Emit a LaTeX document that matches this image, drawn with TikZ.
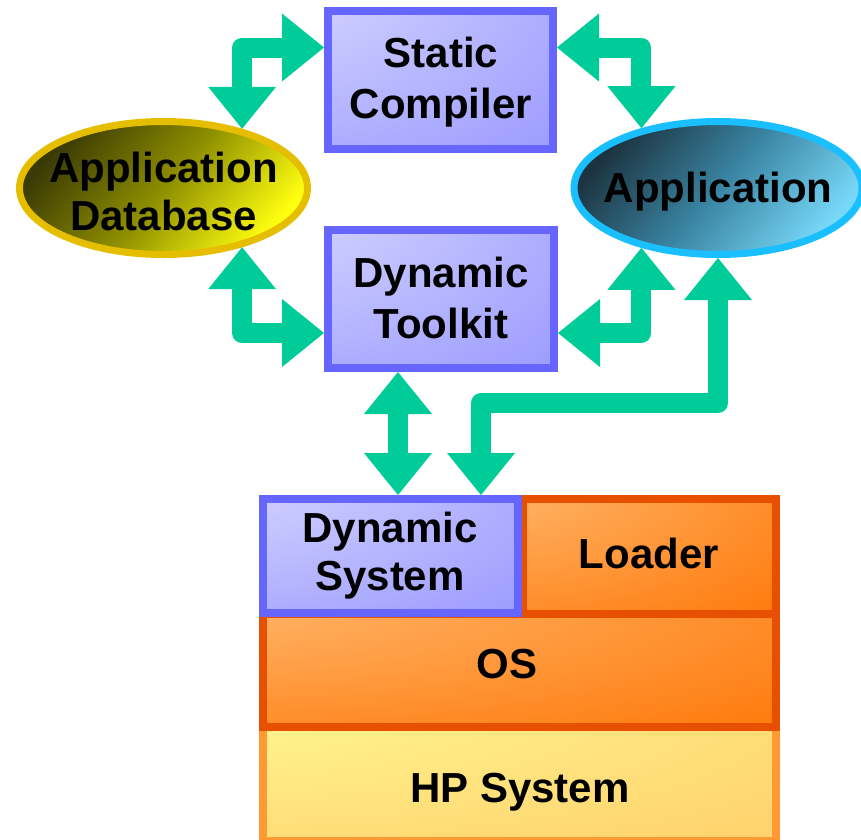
\documentclass[tikz,border=0pt]{standalone}
\usepackage{fontspec}
\setmainfont{Liberation Sans}
\usetikzlibrary{arrows.meta,calc,shapes.geometric}

% palette
\definecolor{flowgreen}{HTML}{00CC99}
\definecolor{bxline}{HTML}{6666FF}
\definecolor{bxlight}{HTML}{DCDCFF}
\definecolor{bxdark}{HTML}{9595FF}
\definecolor{orline}{HTML}{E65000}
\definecolor{orlight}{HTML}{FFBC74}
\definecolor{ordark}{HTML}{FF7606}
\definecolor{hpline}{HTML}{FF9933}
\definecolor{hplight}{HTML}{FFFF99}
\definecolor{hpdark}{HTML}{FFCB66}
\definecolor{dbline}{HTML}{E6BE00}
\definecolor{dbdark}{HTML}{3A3A05}
\definecolor{dbmid}{HTML}{8E8E00}
\definecolor{dblight}{HTML}{FFFF10}
\definecolor{apline}{HTML}{19BFFF}
\definecolor{apdark}{HTML}{1C3440}
\definecolor{apmid}{HTML}{3A84A2}
\definecolor{aplight}{HTML}{78D8F8}

% glow from the upper left corner of each box
\pgfdeclareradialshading{bluebox}{\pgfpoint{-50bp}{50bp}}{color(0bp)=(bxlight); color(8bp)=(bxlight); color(78bp)=(bxdark); color(145bp)=(bxdark)}
\pgfdeclareradialshading{orangebox}{\pgfpoint{-50bp}{50bp}}{color(0bp)=(orlight); color(12bp)=(orlight); color(75bp)=(ordark); color(145bp)=(ordark)}
\pgfdeclareradialshading{yellowbox}{\pgfpoint{-50bp}{50bp}}{color(0bp)=(hplight); color(5bp)=(hplight); color(80bp)=(hpdark); color(145bp)=(hpdark)}

\begin{document}
\begin{tikzpicture}[x=1pt, y=-1pt,
  font=\bfseries\fontsize{42}{51}\selectfont,
  box/.style={rectangle, line width=8pt, inner sep=0pt, shade},
  bluebx/.style={box, draw=bxline, shading=bluebox},
  orbx/.style={box, draw=orline, shading=orangebox},
  hpbx/.style={box, draw=hpline, shading=yellowbox},
  oval/.style={ellipse, line width=7pt, inner sep=0pt, minimum width=288pt, minimum height=133pt},
  lbl/.style={align=center, anchor=base, inner sep=0pt, text=black},
  flowtip/.tip={Triangle[width=68pt, length=42pt, line width=0pt]},
  flow/.style={draw=flowgreen, line width=20pt, line join=round, flowtip-flowtip}]
\useasboundingbox (0,0) rectangle (861,839);

% platform stack
\node[hpbx, minimum width=513pt, minimum height=114pt] (hp) at (519.5,784) {};
\node[orbx, minimum width=513pt, minimum height=113pt] (os) at (519.5,670.5) {};
\node[orbx, minimum width=253pt, minimum height=115pt] (ld) at (649.5,556.5) {};
\node[bluebx, minimum width=255pt, minimum height=114pt] (ds) at (390.5,556) {};

% tool boxes
\node[bluebx, minimum width=225pt, minimum height=138pt] (sc) at (440.5,80) {};
\node[bluebx, minimum width=226pt, minimum height=138pt] (dt) at (441,299) {};

% program ovals
\node[oval, draw=dbline, top color=dbdark, bottom color=dblight, middle color=dbmid, shading angle=50] (adb) at (163.5,188) {};
\node[oval, draw=apline, top color=apdark, bottom color=aplight, middle color=apmid, shading angle=50] (app) at (718,188) {};

% labels (a multi-line label sits on its last baseline)
\node[lbl] (sclbl) at (441,118) {Static\\Compiler};
\node[lbl] (dtlbl) at (441,338) {Dynamic\\Toolkit};
\node[lbl] (adblbl) at (163.5,230) {Application\\[-3pt]Database};
\node[lbl] (applbl) at (718,202) {Application};
\node[lbl] (dslbl) at (390,590) {Dynamic\\[-3pt]System};
\node[lbl] (ldlbl) at (649,568) {Loader};
\node[lbl] (oslbl) at (507,678) {OS};
\node[lbl] (hplbl) at (520,802) {HP System};

% data flows
\draw[flow] ([yshift=32.5pt]sc.west) -| (adb.37);
\draw[flow] ([yshift=32.5pt]sc.east) -| (app.142);
\draw[flow] (adb.-37) |- ([yshift=-34pt]dt.west);
\draw[flow] (app.-142) |- ([yshift=-34pt]dt.east);
\draw[flow] ([xshift=-43pt]dt.south) -- ([xshift=-43pt]dt.south |- ds.north);
\coordinate (dsin) at ([xshift=90.5pt]ds.north);
\draw[flow] (app.south) |- ($(dsin)+(0,-92)$) -- (dsin);
\end{tikzpicture}
\end{document}
